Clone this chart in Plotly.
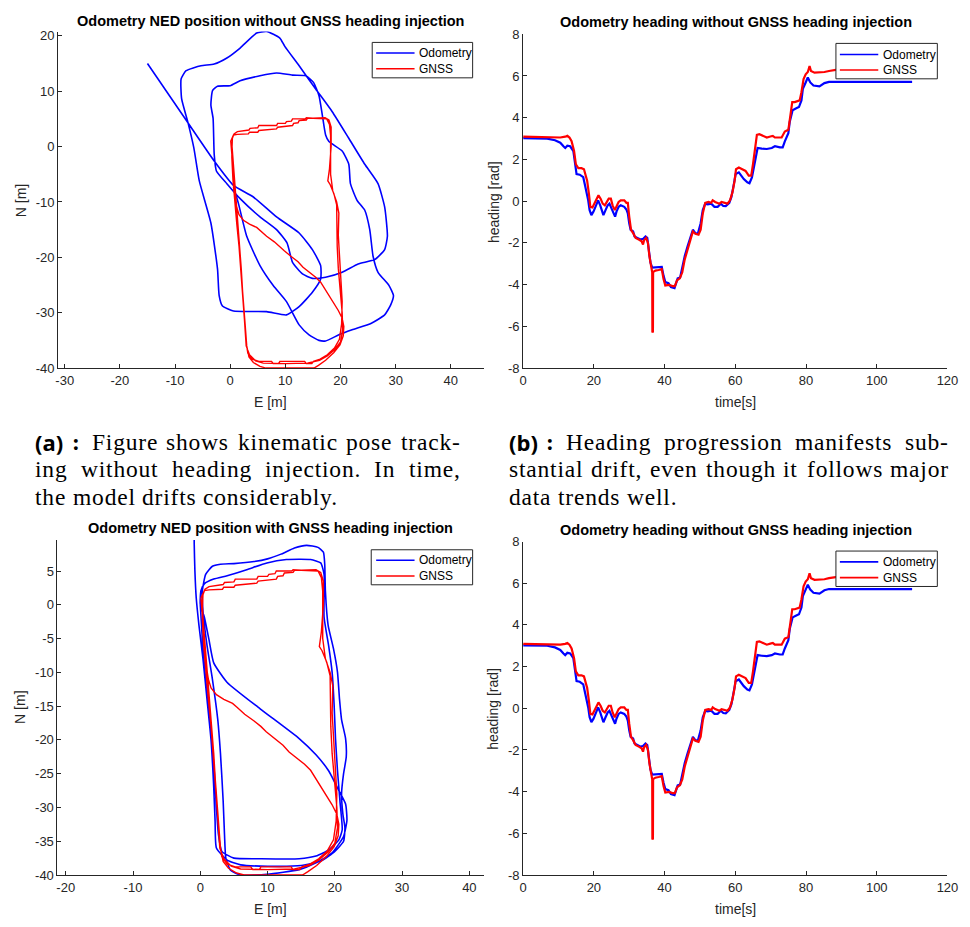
import plotly.graph_objects as go

# ---------------- data ----------------
# Panel (a): odometry NED track without heading injection
odo_a_e = [-15.0, -8.0, -2.9, 0.6, 4.2, 8.4, 12.5, 14.9, 16.4, 16.4,
           14.9, 12.5, 10.2, 6.6, 0.6, -1.4, -2.0, -2.3, -3.5, -5.6,
           -6.6, -7.7, -8.8, -8.9, -8.0, -5.3, -2.9, -0.6, 1.8, 4.8,
           6.6, 9.0, 9.9, 12.5, 15.5, 18.5, 21.5, 24.4, 26.8, 28.0,
           28.5, 28.0, 26.2, 23.2, 20.3, 17.3, 14.9, 13.1, 11.3, 10.3,
           8.4, 5.4, 1.8, -0.6, -2.5, -2.9, -3.1, -3.5, -3.2, -2.3,
           0.0, 1.8, 5.4, 8.4, 11.3, 13.7, 15.1, 16.1, 16.7, 17.3,
           17.9, 20.3, 21.5, 21.8, 23.0, 24.4, 25.3, 25.9, 26.8, 28.8,
           29.6, 29.1, 28.0, 25.6, 22.1, 19.7, 17.3, 16.1, 14.3, 12.5,
           10.2, 7.8, 5.4, 3.0, 1.5, 0.6]
odo_a_n = [15.0, 4.8, -2.6, -7.0, -9.1, -12.7, -15.6, -18.6, -21.5, -23.9,
           -26.3, -28.9, -30.4, -29.8, -29.7, -28.8, -26.9, -22.1, -13.8, -6.2,
           -0.2, 4.5, 8.6, 12.2, 13.7, 14.6, 14.9, 16.0, 17.8, 20.5,
           20.8, 19.6, 18.1, 14.6, 10.4, 6.3, 1.5, -3.2, -6.7, -10.9,
           -16.2, -18.6, -20.4, -21.2, -22.7, -23.6, -23.8, -23.0, -20.9, -17.4,
           -15.0, -12.7, -9.4, -6.7, -4.4, -1.4, 5.1, 7.5, 10.1, 10.9,
           11.0, 11.9, 12.8, 13.3, 12.9, 12.8, 11.6, 9.2, 5.7, 2.1,
           0.9, -0.8, -3.2, -6.7, -9.7, -11.5, -15.0, -19.8, -22.7, -25.1,
           -26.9, -28.6, -30.4, -31.9, -33.1, -34.0, -35.1, -35.0, -34.0, -32.2,
           -28.0, -25.1, -21.5, -16.2, -10.3, -7.3]

# Panel (c): odometry NED track with GNSS heading injection
odo_c_e = [0.0, 0.3, 0.7, 1.2, 1.7, 2.1, 2.4, 2.7, 3.2, 5.0,
           9.0, 14.7, 17.2, 19.1, 20.6, 21.1, 20.8, 20.4, 20.1, 19.9,
           19.6, 19.1, 18.4, 18.4, 17.9, 16.4, 12.8, 9.9, 6.9, 4.0,
           2.0, 0.6, 0.1, 0.0, 0.6, 1.3, 2.0, 4.0, 8.9, 14.7,
           17.2, 19.1, 20.6, 21.6, 21.8, 21.3, 19.6, 17.2, 14.7, 9.9,
           6.0, 4.5, 3.8, 3.6, 3.4, 3.0, 2.6, 1.8, 1.0, 0.4,
           0.3, 0.8, 1.8, 3.0, 5.0, 8.0, 10.0, 12.0, 14.0, 15.8,
           17.5, 18.3, 18.5, 18.6, 19.0, 19.8, 20.4, 20.7, 21.0, 21.6,
           21.7, 21.3, 21.0, 21.2, 21.5, 21.3, 20.0, 18.0, 15.0, 10.0,
           6.0, 4.0, 2.4, 2.2, 2.0, 1.6, 1.0, 0.4, -0.2, -0.6,
           -0.8, -0.9, -0.9]
odo_c_n = [0.0, -5.0, -10.0, -15.0, -20.0, -25.0, -30.0, -34.0, -36.5, -37.5,
           -37.6, -37.6, -37.2, -36.3, -34.8, -33.3, -29.5, -24.6, -19.8, -14.9,
           -10.0, -6.2, -1.8, 4.5, 6.2, 6.7, 6.7, 6.2, 5.2, 4.3,
           3.8, 3.1, 2.1, 0.1, -1.8, -5.2, -8.6, -11.5, -15.4, -19.8,
           -22.2, -24.6, -27.5, -29.5, -31.9, -34.3, -36.7, -38.2, -39.2, -39.9,
           -40.0, -39.3, -37.5, -34.0, -29.0, -22.0, -17.0, -11.0, -6.0, -1.0,
           2.0, 4.5, 5.7, 6.0, 6.1, 6.4, 6.8, 7.5, 8.4, 8.8,
           8.5, 7.8, 6.0, 2.0, -3.0, -6.5, -10.0, -14.0, -17.0, -19.8,
           -22.5, -25.0, -28.0, -31.0, -33.0, -35.0, -36.5, -37.9, -38.6, -38.7,
           -38.5, -37.8, -36.0, -32.0, -27.0, -20.0, -14.0, -8.0, -3.0, 1.0,
           5.0, 9.0, 12.0]

# GNSS reference track (same in both position panels)
gnss_e = [0.3, 0.3, 0.5, 0.8, 1.2, 1.6, 1.9, 2.2, 2.5, 2.7,
          2.9, 3.2, 4.0, 5.2, 7.5, 7.8, 8.8, 9.0, 13.5, 13.8,
          14.8, 15.1, 16.3, 17.6, 18.9, 19.8, 20.2, 20.3, 20.1, 19.8,
          19.6, 19.7, 19.3, 18.6, 18.2, 18.2, 18.2, 18.0, 17.5, 15.0,
          13.8, 13.6, 11.3, 11.1, 10.2, 10.0, 8.6, 8.4, 5.2, 5.0,
          3.6, 3.4, 1.3, 0.7, 0.4, 0.3, 0.5, 0.8, 1.2, 1.6,
          2.4, 3.5, 4.8, 5.5, 6.6, 8.0, 9.0, 9.8, 11.0, 12.3,
          13.2, 14.5, 15.5, 16.4, 17.2, 18.0, 18.8, 19.6, 20.3, 20.6,
          20.5, 19.9, 18.8, 17.3, 16.0, 15.2, 12.0, 9.0, 6.5, 5.4,
          4.2, 3.4, 3.0, 2.7, 2.4, 2.1, 1.8, 1.4, 1.0, 0.6,
          0.2, 0.1, 0.6, 1.3, 3.3, 3.5, 5.0, 5.2, 8.4, 8.6,
          11.3, 11.5, 12.3, 12.5, 13.8, 14.0, 17.2, 17.9, 18.3, 18.3,
          18.0, 17.7, 18.1, 18.8, 19.3, 19.3, 19.4, 19.6, 20.0, 20.3,
          20.4, 20.0, 19.0, 17.6, 16.2, 14.0, 10.0, 6.0, 4.6, 3.5,
          2.9, 2.6, 2.3, 2.0, 1.6, 1.1, 0.7, 0.4, 0.3]
gnss_n = [0.8, -2.0, -6.0, -10.0, -14.0, -18.0, -22.0, -26.0, -30.0, -33.0,
          -35.5, -37.3, -38.4, -38.8, -38.8, -39.2, -39.2, -38.8, -38.8, -39.2,
          -39.2, -38.8, -38.4, -37.6, -36.4, -34.8, -32.0, -28.0, -24.0, -20.0,
          -16.0, -12.0, -10.0, -8.0, -5.0, -1.0, 2.0, 4.0, 5.0, 5.1,
          5.2, 5.0, 5.0, 4.6, 4.5, 4.2, 4.2, 3.8, 3.8, 3.4,
          3.3, 3.0, 2.7, 2.3, 1.5, -1.0, -5.0, -8.5, -11.0, -12.3,
          -13.3, -14.0, -14.6, -15.2, -16.2, -17.2, -18.0, -18.8, -19.8, -20.8,
          -21.8, -22.8, -23.6, -24.5, -25.8, -27.2, -28.4, -29.6, -31.0, -32.5,
          -34.2, -35.8, -37.2, -38.6, -39.5, -40.0, -40.0, -40.0, -40.0, -39.7,
          -39.0, -38.0, -36.0, -32.0, -28.0, -23.0, -19.0, -15.0, -10.0, -5.0,
          -1.0, 1.0, 2.1, 2.2, 2.3, 2.6, 2.6, 2.9, 3.2, 3.5,
          3.8, 4.2, 4.3, 4.7, 4.8, 5.1, 5.2, 4.8, 3.5, 0.0,
          -4.0, -6.2, -6.8, -8.5, -10.5, -14.0, -18.0, -22.0, -26.0, -30.0,
          -33.0, -35.3, -36.6, -37.8, -38.6, -39.1, -39.2, -39.1, -38.7, -37.6,
          -36.0, -32.0, -27.0, -22.0, -17.0, -11.0, -6.0, -2.0, 0.5]

# Heading time series (panels b and d)
t_odo = [0.0, 3.0, 6.8, 9.0, 10.5, 11.4, 11.9, 12.5, 13.3, 14.2,
         14.7, 15.1, 16.0, 17.0, 17.4, 17.9, 18.4, 18.8, 19.3, 19.9,
         20.7, 21.2, 21.8, 22.3, 22.7, 23.3, 23.9, 24.4, 25.0, 25.5,
         26.0, 26.4, 27.0, 27.6, 28.6, 29.2, 29.6, 30.0, 30.4, 31.1,
         31.5, 32.3, 33.2, 33.9, 34.6, 35.1, 35.5, 36.0, 36.5, 37.4,
         38.3, 39.2, 39.7, 40.2, 41.1, 41.8, 42.8, 43.2, 43.7, 44.4,
         45.0, 45.7, 46.5, 47.4, 48.0, 48.7, 49.4, 50.2, 50.8, 51.5,
         52.2, 53.2, 54.1, 55.0, 55.9, 56.6, 57.3, 58.3, 58.9, 59.6,
         60.1, 61.0, 61.7, 62.4, 63.4, 64.0, 64.7, 65.4, 66.0, 66.3,
         67.5, 68.9, 70.3, 71.2, 72.6, 73.4, 74.0, 75.0, 75.4, 76.2,
         77.1, 78.0, 78.7, 79.1, 79.9, 80.5, 81.2, 82.1, 83.8, 85.2,
         86.5, 95.0, 110.0]
h_odo = [3.02, 3.02, 3.0, 2.92, 2.8, 2.63, 2.55, 2.66, 2.63, 2.4,
         1.77, 1.3, 1.27, 1.15, 0.83, 0.5, 0.04, -0.43, -0.67, -0.5,
         -0.12, 0.04, -0.2, -0.5, -0.67, -0.43, -0.2, -0.12, -0.35, -0.59,
         -0.74, -0.5, -0.27, -0.2, -0.27, -0.4, -0.59, -1.06, -1.37, -1.45,
         -1.69, -1.76, -1.84, -1.81, -1.69, -1.76, -2.31, -2.94, -3.18, -3.18,
         -3.18, -3.15, -3.57, -3.88, -3.93, -4.12, -4.17, -3.96, -3.7, -3.66,
         -3.18, -2.63, -2.16, -1.69, -1.37, -1.53, -1.56, -1.06, -0.43, -0.12,
         -0.15, -0.12, -0.27, -0.27, -0.12, -0.23, -0.24, -0.08, 0.2, 0.83,
         1.3, 1.38, 1.22, 1.06, 0.9, 0.86, 1.14, 1.77, 2.4, 2.55,
         2.52, 2.5, 2.55, 2.63, 2.58, 2.58, 2.87, 3.26, 3.81, 4.36,
         4.44, 4.51, 4.83, 5.38, 5.69, 5.93, 5.69, 5.54, 5.5, 5.66,
         5.72, 5.72, 5.72]
t_gnss = [0.0, 5.0, 10.5, 11.9, 12.5, 13.1, 13.7, 14.4, 14.9, 15.6,
          16.5, 17.2, 17.7, 18.1, 18.6, 19.0, 19.6, 20.2, 20.9, 21.3,
          21.9, 22.5, 23.1, 23.7, 24.2, 24.8, 25.3, 25.9, 26.4, 27.0,
          27.6, 28.6, 29.2, 29.6, 30.0, 30.5, 31.1, 31.8, 32.7, 33.5,
          33.9, 34.2, 34.8, 35.3, 35.7, 36.3, 36.5, 36.55, 36.7, 36.75,
          37.4, 38.3, 39.2, 39.7, 40.2, 41.3, 42.2, 42.9, 43.5, 44.3,
          45.0, 45.7, 46.7, 47.6, 48.0, 48.7, 49.6, 50.2, 50.8, 51.5,
          52.4, 53.2, 53.6, 54.3, 55.5, 56.1, 56.9, 57.8, 58.5, 59.2,
          59.8, 60.2, 61.0, 61.9, 62.9, 63.8, 64.5, 65.0, 65.7, 66.1,
          66.8, 68.0, 68.9, 69.9, 70.6, 71.2, 73.1, 74.0, 75.0, 75.4,
          76.1, 76.8, 78.2, 78.7, 79.3, 79.9, 80.5, 81.0, 81.4, 82.4,
          83.8, 85.2, 86.5, 88.4, 95.0, 110.0]
h_gnss = [3.09, 3.08, 3.05, 3.09, 3.13, 3.05, 2.87, 2.4, 1.77, 1.58,
          1.58, 1.53, 1.14, 0.98, 0.35, -0.27, -0.3, -0.12, 0.12, 0.28,
          0.12, -0.12, -0.2, -0.04, 0.12, 0.12, -0.2, -0.43, -0.24, -0.04,
          0.04, 0.04, -0.08, -0.08, -0.74, -1.37, -1.53, -1.76, -1.84, -1.92,
          -2.08, -1.87, -1.76, -2.0, -2.63, -3.1, -3.41, -6.3, -6.25, -3.4,
          -3.33, -3.3, -3.26, -3.73, -4.04, -4.01, -4.07, -4.07, -3.8, -3.7,
          -3.41, -2.79, -2.24, -1.69, -1.45, -1.56, -1.61, -1.37, -0.59, -0.08,
          -0.04, -0.08, 0.04, -0.04, -0.12, -0.04, -0.07, -0.12, 0.04, 0.43,
          0.98, 1.53, 1.61, 1.53, 1.45, 1.22, 1.22, 1.77, 2.55, 3.18,
          3.21, 3.13, 3.05, 3.1, 3.13, 3.05, 3.05, 3.34, 3.42, 3.89,
          4.75, 4.75, 4.83, 5.22, 5.85, 6.08, 6.19, 6.48, 6.24, 6.16,
          6.16, 6.19, 6.24, 6.29, 6.3, 6.3]

assert len(odo_a_e) == len(odo_a_n)
assert len(odo_c_e) == len(odo_c_n)
assert len(gnss_e) == len(gnss_n)
assert len(t_odo) == len(h_odo)
assert len(t_gnss) == len(h_gnss)

# Tick values
pos_a_xticks = [-30, -20, -10, 0, 10, 20, 30, 40]
pos_a_yticks = [-40, -30, -20, -10, 0, 10, 20]
pos_c_xticks = [-20, -10, 0, 10, 20, 30, 40]
pos_c_yticks = [-40, -35, -30, -25, -20, -15, -10, -5, 0, 5]
head_xticks = [0, 20, 40, 60, 80, 100, 120]
head_yticks = [-8, -6, -4, -2, 0, 2, 4, 6, 8]

# Text
series_names = ["Odometry", "GNSS"]
titles = ["Odometry NED position without GNSS heading injection",
          "Odometry heading without GNSS heading injection",
          "Odometry NED position with GNSS heading injection",
          "Odometry heading without GNSS heading injection"]
caption_a = ["Figure shows kinematic pose track-",
             "ing without heading injection.  In time,",
             "the model drifts considerably."]
caption_b = ["Heading progression manifests sub-",
             "stantial drift, even though it follows major",
             "data trends well."]

# ---------------- figure ----------------
W, H = 970, 927
BLUE, RED = "#0000FF", "#FF0000"
AX = "#262626"
SANS = "Liberation Sans"
SERIF = "Liberation Serif"


def px(x):
    return x / W


def py(y):
    return 1 - y / H


fig = go.Figure()

panels = [
    dict(x="x", y="y", oe=odo_a_e, on=odo_a_n, kind="pos"),
    dict(x="x2", y="y2", kind="head"),
    dict(x="x3", y="y3", oe=odo_c_e, on=odo_c_n, kind="pos"),
    dict(x="x4", y="y4", kind="head"),
]
for p in panels:
    if p["kind"] == "pos":
        fig.add_trace(go.Scatter(x=p["oe"], y=p["on"], mode="lines", name=series_names[0],
                                 line=dict(color=BLUE, width=1.6, shape="spline", smoothing=0.5),
                                 xaxis=p["x"], yaxis=p["y"], showlegend=False))
        fig.add_trace(go.Scatter(x=gnss_e, y=gnss_n, mode="lines", name=series_names[1],
                                 line=dict(color=RED, width=1.4),
                                 xaxis=p["x"], yaxis=p["y"], showlegend=False))
    else:
        fig.add_trace(go.Scatter(x=t_odo, y=h_odo, mode="lines", name=series_names[0],
                                 line=dict(color=BLUE, width=2.2),
                                 xaxis=p["x"], yaxis=p["y"], showlegend=False))
        fig.add_trace(go.Scatter(x=t_gnss, y=h_gnss, mode="lines", name=series_names[1],
                                 line=dict(color=RED, width=2.2),
                                 xaxis=p["x"], yaxis=p["y"], showlegend=False))


def axis(domain, rng, ticks, anchor):
    return dict(domain=domain, range=rng, anchor=anchor,
                tickmode="array", tickvals=ticks, ticktext=[str(v) for v in ticks],
                ticks="inside", ticklen=4, tickwidth=1, tickcolor=AX,
                showline=True, linecolor=AX, linewidth=1,
                showgrid=False, zeroline=False,
                tickfont=dict(family=SANS, size=13, color=AX))


fig.update_layout(
    width=W, height=H,
    margin=dict(l=0, r=0, t=0, b=0),
    paper_bgcolor="white", plot_bgcolor="white",
    showlegend=False,
    xaxis=axis([px(55), px(487.3)], [-31.19, 45.97], pos_a_xticks, "y"),
    yaxis=axis([py(367), py(25)], [-40, 20.77], pos_a_yticks, "x"),
    xaxis2=axis([px(527.3), px(958.3)], [0, 120], head_xticks, "y2"),
    yaxis2=axis([py(367), py(27.7)], [-8, 8], head_yticks, "x2"),
    xaxis3=axis([px(54.3), px(487.3)], [-21.23, 42.14], pos_c_xticks, "y3"),
    yaxis3=axis([py(882.3), py(541.7)], [-40, 9.6], pos_c_yticks, "x3"),
    xaxis4=axis([px(527.3), px(958.3)], [0, 120], head_xticks, "y4"),
    yaxis4=axis([py(882.3), py(543.3)], [-8, 8], head_yticks, "x4"),
)

ann = []
shapes = []

# legend boxes (compact, MATLAB style): box, sample-line span, text x, row y's
legend_boxes = [
    ((374, 476, 36, 72), (378, 417), 421, (46.7, 62.7)),
    ((845, 948, 37, 73), (849, 888), 892, (48.3, 64.0)),
    ((373, 476, 551.7, 587.3), (378, 417), 420, (562.3, 578.3)),
    ((845, 948, 553, 589), (849, 888), 892, (564.0, 580.0)),
]
for (bx0, bx1, by0, by1), (lx0, lx1), tx, rows in legend_boxes:
    shapes.append(dict(type="rect", xref="paper", yref="paper",
                       x0=px(bx0), x1=px(bx1), y0=py(by1), y1=py(by0),
                       line=dict(color=AX, width=1), fillcolor="white", layer="above"))
    for name, color, ry in zip(series_names, [BLUE, RED], rows):
        shapes.append(dict(type="line", xref="paper", yref="paper",
                           x0=px(lx0), x1=px(lx1), y0=py(ry), y1=py(ry),
                           line=dict(color=color, width=1.6), layer="above"))
        ann.append(dict(text=name, x=px(tx), y=py(ry), xref="paper", yref="paper",
                        xanchor="left", yanchor="middle", showarrow=False, borderpad=0,
                        font=dict(family=SANS, size=12, color="black")))

# subplot titles
for txt, (cx, cy) in zip(titles, [(271, 14), (743, 15.7), (271, 530), (743, 531.7)]):
    ann.append(dict(text="<b>%s</b>" % txt, x=px(cx), y=py(cy), xref="paper", yref="paper",
                    xanchor="center", yanchor="middle", showarrow=False,
                    font=dict(family=SANS, size=14.5, color="black")))
# axis labels
labels = [("E [m]", 271, 402, 0), ("N [m]", 16.7, 197, -90),
          ("time[s]", 743, 402, 0), ("heading [rad]", 497, 198, -90),
          ("E [m]", 271, 917, 0), ("N [m]", 16.7, 712, -90),
          ("time[s]", 743, 917, 0), ("heading [rad]", 497, 713, -90)]
for txt, cx, cy, ang in labels:
    ann.append(dict(text=txt, x=px(cx), y=py(cy), xref="paper", yref="paper",
                    xanchor="center", yanchor="middle", showarrow=False, textangle=ang,
                    font=dict(family=SANS, size=14, color=AX)))

# caption typesetting (justified, Times-metric word widths plus tracking)
TIMES = {' ': 250, '!': 333, '(': 333, ')': 333, ',': 250, '-': 333, '.': 250, ':': 278,
         'a': 444, 'b': 500, 'c': 444, 'd': 500, 'e': 444, 'f': 333, 'g': 500, 'h': 500,
         'i': 278, 'j': 278, 'k': 500, 'l': 278, 'm': 778, 'n': 500, 'o': 500, 'p': 500,
         'q': 500, 'r': 333, 's': 389, 't': 278, 'u': 500, 'v': 500, 'w': 722, 'x': 500,
         'y': 500, 'z': 444, 'F': 556, 'H': 722, 'I': 333}
CAP_SIZE = 23.5
TRACK = 0.8  # px of extra letter spacing


def text_width(word, size):
    return sum(TIMES.get(c, 500) for c in word) * size / 1000.0 + TRACK * len(word)


def set_line(line, x0, x1, yc, justify):
    words = line.split()
    widths = [text_width(w, CAP_SIZE) for w in words]
    if justify and len(words) > 1:
        gap = (x1 - x0 - sum(widths)) / (len(words) - 1)
    else:
        gap = TIMES[' '] * CAP_SIZE / 1000.0 * 1.3
    x = x0
    for w, wd in zip(words, widths):
        ann.append(dict(text='<span style="letter-spacing:%.1fpx">%s</span>' % (TRACK, w),
                        x=px(x), y=py(yc), xref="paper", yref="paper",
                        xanchor="left", yanchor="middle", showarrow=False, borderpad=0,
                        font=dict(family=SERIF, size=CAP_SIZE, color="black")))
        x += wd + gap


for tag, lines, left, right in [("(a)", caption_a, 30, 462), ("(b)", caption_b, 512, 958)]:
    ann.append(dict(text="<b>%s</b>" % tag, x=px(left), y=py(442), xref="paper", yref="paper",
                    xanchor="left", yanchor="middle", showarrow=False, borderpad=0,
                    font=dict(family="Open Sans", size=22, color="black")))
    ann.append(dict(text="<b>:</b>", x=px(left + 38), y=py(442), xref="paper", yref="paper",
                    xanchor="left", yanchor="middle", showarrow=False, borderpad=0,
                    font=dict(family=SERIF, size=CAP_SIZE, color="black")))
    set_line(lines[0], left + 58, right, 442, True)
    set_line(lines[1], left, right, 470, True)
    set_line(lines[2], left, right, 498, False)

fig.update_layout(annotations=ann, shapes=shapes)
fig.write_html("out.html")
